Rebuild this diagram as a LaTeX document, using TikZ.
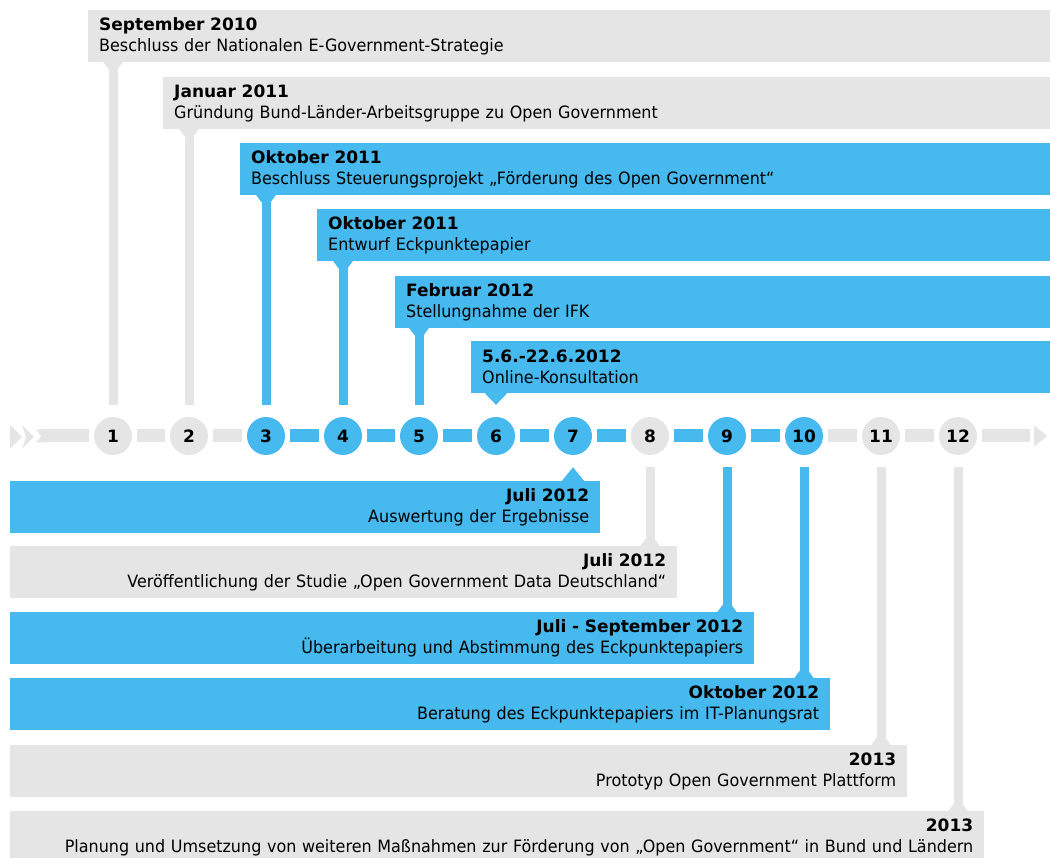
\documentclass[tikz,border=0pt]{standalone}
\usepackage{fontspec}
\setmainfont{DejaVu Sans}[UprightFeatures={FakeStretch=0.94}, BoldFeatures={FakeStretch=1.0}]
\usepackage{tikz}
\usetikzlibrary{calc, positioning}
\definecolor{tlblue}{RGB}{70,185,238}
\definecolor{tlgray}{RGB}{229,229,229}
\tikzset{
  milestone/.style={circle, minimum size=38pt, inner sep=0pt, font=\fontsize{17}{17}\selectfont\bfseries},
  event/.style={anchor=north west, minimum height=52pt, inner xsep=11pt, inner ysep=0pt, font=\fontsize{17}{21}\selectfont},
  upper/.style={event, align=left},
  lower/.style={event, align=right},
  stem/.style={line width=9pt},
  track/.style={line width=13pt, shorten <=5pt, shorten >=5pt},
  flare/.pic={\fill (-10,-0.5) -- (10,-0.5) -- (4.5,7) -- (-4.5,7) -- cycle;},
}

\begin{document}
\begin{tikzpicture}[x=1pt, y=-1pt]
            \useasboundingbox (0,0) rectangle (1050,858);

            % milestones on the time line
            \node[milestone, fill=tlgray] at (113, 436) (c1) {1};
            \node[milestone, fill=tlgray] at (189, 436) (c2) {2};
            \node[milestone, fill=tlblue] at (266, 436) (c3) {3};
            \node[milestone, fill=tlblue] at (343, 436) (c4) {4};
            \node[milestone, fill=tlblue] at (419, 436) (c5) {5};
            \node[milestone, fill=tlblue] at (496, 436) (c6) {6};
            \node[milestone, fill=tlblue] at (573, 436) (c7) {7};
            \node[milestone, fill=tlgray] at (650, 436) (c8) {8};
            \node[milestone, fill=tlblue] at (727, 436) (c9) {9};
            \node[milestone, fill=tlblue] at (804, 436) (c10) {10};
            \node[milestone, fill=tlgray] at (881, 436) (c11) {11};
            \node[milestone, fill=tlgray] at (958, 436) (c12) {12};

            \coordinate (tstart) at (42, 436);
            \coordinate (tend) at (1030, 436);

            \fill[tlgray] (10, 425) -- (22, 437) -- (10, 449) -- cycle;
            \fill[tlgray] (22, 425) -- (34, 437) -- (22, 449) -- (26, 437) -- cycle;
            \fill[tlgray] (36, 429.5) -- (48, 429.5) -- (48, 442.5) -- (36, 442.5) -- (41, 436) -- cycle;
            \fill[tlgray] (1034, 425) -- (1047, 436) -- (1034, 447) -- cycle;

            \draw[track, tlgray, shorten <=0pt] (tstart) -- (c1);
            \draw[track, tlgray] (c1) -- (c2);
            \draw[track, tlgray] (c2) -- (c3);
            \draw[track, tlblue] (c3) -- (c4);
            \draw[track, tlblue] (c4) -- (c5);
            \draw[track, tlblue] (c5) -- (c6);
            \draw[track, tlblue] (c6) -- (c7);
            \draw[track, tlblue] (c7) -- (c8);
            \draw[track, tlblue] (c8) -- (c9);
            \draw[track, tlblue] (c9) -- (c10);
            \draw[track, tlgray] (c10) -- (c11);
            \draw[track, tlgray] (c11) -- (c12);
            \draw[track, tlgray, shorten >=0pt] (c12) -- (tend);

            % events above
            \node[upper, fill=tlgray, text width=940pt] at (88, 10) (e1) {\textbf{September 2010}\\Beschluss der Nationalen E-Government-Strategie};
            \node[upper, fill=tlgray, text width=865pt] at (163, 77) (e2) {\textbf{Januar 2011}\\Gründung Bund-Länder-Arbeitsgruppe zu Open Government};
            \node[upper, fill=tlblue, text width=788pt] at (240, 143) (e3) {\textbf{Oktober 2011}\\Beschluss Steuerungsprojekt „Förderung des Open Government“};
            \node[upper, fill=tlblue, text width=711pt] at (317, 209) (e4) {\textbf{Oktober 2011}\\Entwurf Eckpunktepapier};
            \node[upper, fill=tlblue, text width=633pt] at (395, 276) (e5) {\textbf{Februar 2012}\\Stellungnahme der IFK};
            \node[upper, fill=tlblue, text width=557pt] at (471, 341) (e6) {\textbf{5.6.-22.6.2012}\\Online-Konsultation};

            % events below
            \node[lower, fill=tlblue, text width=568pt] at (10, 481) (e7) {\textbf{Juli 2012}\\Auswertung der Ergebnisse};
            \node[lower, fill=tlgray, text width=645pt] at (10, 546) (e8) {\textbf{Juli 2012}\\Veröffentlichung der Studie „Open Government Data Deutschland“};
            \node[lower, fill=tlblue, text width=722pt] at (10, 612) (e9) {\textbf{Juli - September 2012}\\Überarbeitung und Abstimmung des Eckpunktepapiers};
            \node[lower, fill=tlblue, text width=798pt] at (10, 678) (e10) {\textbf{Oktober 2012}\\Beratung des Eckpunktepapiers im IT-Planungsrat};
            \node[lower, fill=tlgray, text width=875pt] at (10, 745) (e11) {\textbf{2013}\\Prototyp Open Government Plattform};
            \node[lower, fill=tlgray, text width=952pt] at (10, 811) (e12) {\textbf{2013}\\Planung und Umsetzung von weiteren Maßnahmen zur Förderung von „Open Government“ in Bund und Ländern};

            % connectors
            \draw[stem, tlgray] (c1 |- e1.south) -- ([yshift=12pt]c1.north);
            \draw[stem, tlgray] (c2 |- e2.south) -- ([yshift=12pt]c2.north);
            \draw[stem, tlblue] (c3 |- e3.south) -- ([yshift=12pt]c3.north);
            \draw[stem, tlblue] (c4 |- e4.south) -- ([yshift=12pt]c4.north);
            \draw[stem, tlblue] (c5 |- e5.south) -- ([yshift=12pt]c5.north);
            \pic[tlgray] at (c1 |- e1.south) {flare};
            \pic[tlgray] at (c2 |- e2.south) {flare};
            \pic[tlblue] at (c3 |- e3.south) {flare};
            \pic[tlblue] at (c4 |- e4.south) {flare};
            \pic[tlblue] at (c5 |- e5.south) {flare};
            \fill[tlblue] ($(c6 |- e6.south)+(-12,-1)$) -- ([yshift=12pt]c6.north) -- ($(c6 |- e6.south)+(12,-1)$) -- cycle;
            \fill[tlblue] ($(c7 |- e7.north)+(-12,1)$) -- ([yshift=-12pt]c7.south) -- ($(c7 |- e7.north)+(12,1)$) -- cycle;
            \draw[stem, tlgray] (c8 |- e8.north) -- ([yshift=-12pt]c8.south);
            \draw[stem, tlblue] (c9 |- e9.north) -- ([yshift=-12pt]c9.south);
            \draw[stem, tlblue] (c10 |- e10.north) -- ([yshift=-12pt]c10.south);
            \draw[stem, tlgray] (c11 |- e11.north) -- ([yshift=-12pt]c11.south);
            \draw[stem, tlgray] (c12 |- e12.north) -- ([yshift=-12pt]c12.south);
            \pic[tlgray, yscale=-1] at (c8 |- e8.north) {flare};
            \pic[tlblue, yscale=-1] at (c9 |- e9.north) {flare};
            \pic[tlblue, yscale=-1] at (c10 |- e10.north) {flare};
            \pic[tlgray, yscale=-1] at (c11 |- e11.north) {flare};
            \pic[tlgray, yscale=-1] at (c12 |- e12.north) {flare};
        \end{tikzpicture}
\end{document}
